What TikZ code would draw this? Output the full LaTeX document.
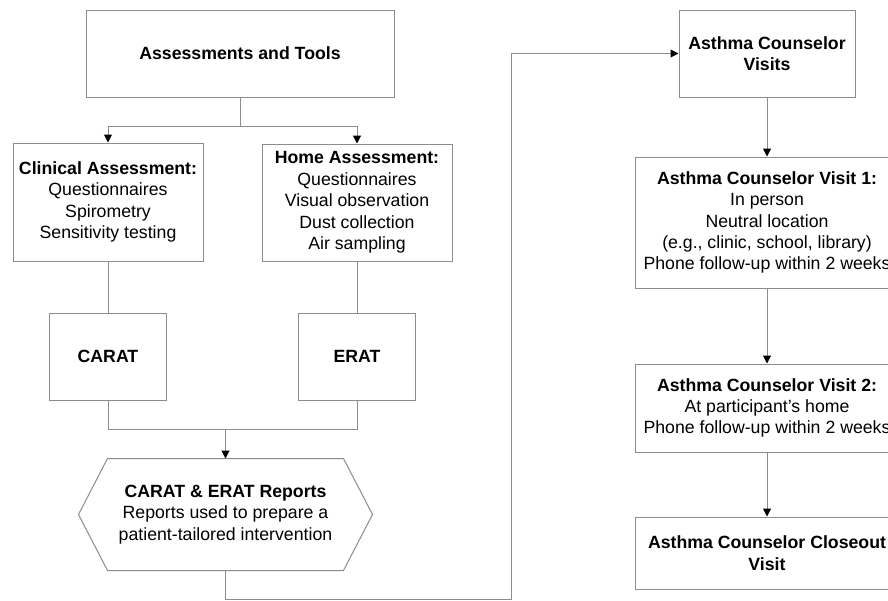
\documentclass[tikz,border=0pt]{standalone}
\usepackage{fontspec}
\setmainfont{Liberation Sans}
\usetikzlibrary{arrows.meta,calc}
\definecolor{lngray}{RGB}{140,140,140}
\begin{document}
\begin{tikzpicture}[x=1pt,y=-1pt,
  box/.style={draw=lngray,line width=1pt,fill=white,inner sep=0pt,align=center,
    font=\fontsize{17.7}{21.4}\selectfont},
  ln/.style={draw=lngray,line width=1pt},
  arr/.style={ln,-{Triangle[length=8pt,width=8pt,color=black]}}]
\useasboundingbox (0,0) rectangle (888,600);
\clip (0,0) rectangle (888,600);
\fill[white] (0,0) rectangle (888,600);

\node[box,minimum width=308pt,minimum height=87pt] (A) at (240,53.5) {\textbf{Assessments and Tools}};
\node[box,minimum width=190pt,minimum height=118pt] (clin) at (108,202) {\textbf{Clinical Assessment:}\\Questionnaires\\Spirometry\\Sensitivity testing};
\node[box,minimum width=190pt,minimum height=117pt] (home) at (357,202.5) {\textbf{Home Assessment:}\\Questionnaires\\Visual observation\\Dust collection\\Air sampling};
\node[box,minimum width=117pt,minimum height=87pt] (carat) at (108,356.5) {\textbf{CARAT}};
\node[box,minimum width=117pt,minimum height=87pt] (erat) at (357,356.5) {\textbf{ERAT}};
\node[box,draw=none,fill=none,minimum width=235pt,minimum height=111pt] (rep) at (225.5,514.5) {\textbf{CARAT \& ERAT Reports}\\Reports used to prepare a\\patient-tailored intervention};
\draw[ln] (rep.north west) -- (rep.north east) -- ($(rep.east)+(29,0)$) -- (rep.south east) -- (rep.south west) -- ($(rep.west)+(-29,0)$) -- cycle;

\node[box,minimum width=176pt,minimum height=87pt] (acv) at (767,53.5) {\textbf{Asthma Counselor}\\\textbf{Visits}};
\node[box,minimum width=264pt,minimum height=131pt] (v1) at (767,222.5) {\textbf{Asthma Counselor Visit 1:}\\In person\\Neutral location\\(e.g., clinic, school, library)\\Phone follow-up within 2 weeks};
\node[box,minimum width=264pt,minimum height=88pt] (v2) at (767,408) {\textbf{Asthma Counselor Visit 2:}\\At participant’s home\\Phone follow-up within 2 weeks};
\node[box,minimum width=264pt,minimum height=72pt] (vc) at (767,553) {\textbf{Asthma Counselor Closeout}\\\textbf{Visit}};

\coordinate (j1) at (240,126);
\draw[ln] (A.south) -- (j1);
\draw[arr] (j1) -| (clin.north);
\draw[arr] (j1) -| (home.north);
\draw[ln] (clin.south) -- (carat.north);
\draw[ln] (home.south) -- (erat.north);
\coordinate (j2) at (225.5,429);
\draw[ln] (carat.south) |- (j2);
\draw[ln] (erat.south) |- (j2);
\draw[arr] (j2) -- (rep.north);
\coordinate (b1) at (225.5,599);
\coordinate (b2) at (511,599);
\coordinate (b3) at (511,53.5);
\draw[arr] (rep.south) -- (b1) -- (b2) -- (b3) -- (acv.west);
\draw[arr] (acv.south) -- (v1.north);
\draw[arr] (v1.south) -- (v2.north);
\draw[arr] (v2.south) -- (vc.north);
\end{tikzpicture}
\end{document}
